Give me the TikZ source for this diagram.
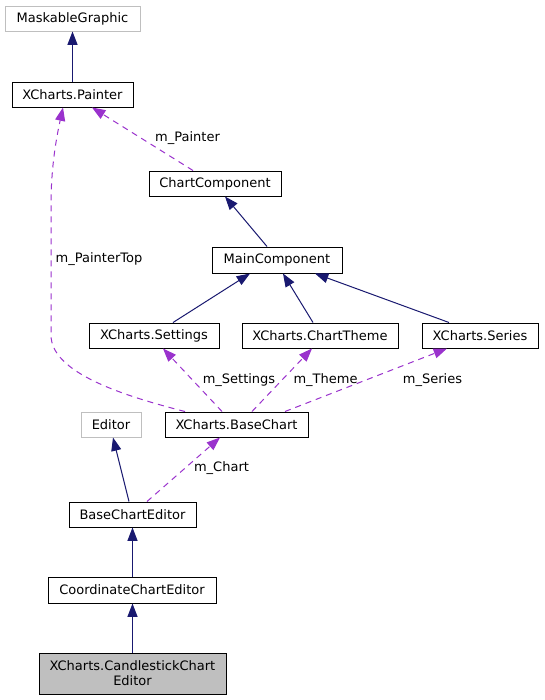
\documentclass[tikz,border=0pt]{standalone}
\usepackage{fontspec}
\setmainfont{DejaVu Sans}
\usetikzlibrary{arrows.meta,calc}
\definecolor{navy}{HTML}{191970}
\definecolor{orchid}{HTML}{9A32CD}
\definecolor{lgray}{HTML}{BFBFBF}
\begin{document}
\begin{tikzpicture}[x=0.75pt,y=-0.75pt,
 box/.style={draw=black, fill=white, line width=0.75pt, inner sep=0pt, minimum height=18.75pt, font=\fontsize{9.75pt}{11.25pt}\selectfont, align=center},
 ext/.style={box, draw=lgray},
 inh/.style={draw=navy, line width=0.75pt, -{Triangle[length=10pt,width=7.5pt]}},
 use/.style={draw=orchid, line width=0.75pt, dash pattern=on 4.5pt off 3.75pt, -{Triangle[length=10pt,width=7.5pt]}},
 lbl/.style={font=\fontsize{9.75pt}{11.25pt}\selectfont, inner sep=0pt}]
\fill[white] (0,0) rectangle (544,700);
\useasboundingbox (0,0) rectangle (544,700);
% nodes
\node[ext, minimum width=101.25pt] (mg) at (72.5,18.5) {MaskableGraphic};
\node[box, minimum width=90.75pt] (painter) at (72.5,94.5) {XCharts.Painter};
\node[box, minimum width=99pt] (cc) at (215,183.5) {ChartComponent};
\node[box, minimum width=97.5pt, minimum height=19.5pt] (mc) at (277,260) {MainComponent};
\node[box, minimum width=97.5pt] (set) at (154,335.5) {XCharts.Settings};
\node[box, minimum width=117pt] (theme) at (320,335.5) {XCharts.ChartTheme};
\node[box, minimum width=87pt] (series) at (480,335.5) {XCharts.Series};
\node[ext, minimum width=45pt] (editor) at (111,424.5) {Editor};
\node[box, minimum width=107.25pt] (bc) at (236.5,424.5) {XCharts.BaseChart};
\node[box, minimum width=95.25pt] (bce) at (132.5,514.5) {BaseChartEditor};
\node[box, minimum width=126pt, minimum height=19.5pt] (coord) at (132,590) {CoordinateChartEditor};
\node[box, fill=lgray, minimum width=140.25pt, minimum height=30.75pt] (candle) at (132.5,673.5) {XCharts.CandlestickChart\\Editor};
% inheritance edges
\draw[inh] (painter.north) -- (mg.south);
\draw[inh] ($(mc.north)+(-10,0)$) -- ($(cc.south)+(10,0)$);
\draw[inh] ($(set.north)+(19,0)$) -- ($(mc.south)+(-27,0)$);
\draw[inh] ($(theme.north)+(-7,0)$) -- ($(mc.south)+(6,0)$);
\draw[inh] ($(series.north)+(-31,0)$) -- ($(mc.south)+(38,0)$);
\draw[inh] ($(bce.north)+(-3.5,0)$) -- ($(editor.south)+(2,0)$);
\draw[inh] (coord.north -| bce.south) -- (bce.south);
\draw[inh] (candle.north) -- (candle.north |- coord.south);
% usage edges
\draw[use] ($(cc.north)+(-22,0)$) -- ($(painter.south)+(19.5,0)$);
\draw[use] ($(bc.north)+(-51.5,0)$) .. controls (120,395) and (51,372) .. (51,335) -- (51,205) .. controls (51,165) and (57,135) .. ($(painter.south)+(-9.5,0)$);
\draw[use] ($(bc.north)+(-14.5,0)$) -- ($(set.south)+(9,0)$);
\draw[use] ($(bc.north)+(15.5,0)$) -- ($(theme.south)+(-8,0)$);
\draw[use] ($(bc.north)+(48.5,0)$) -- ($(series.south)+(-33,0)$);
\draw[use] ($(bce.north)+(14.5,0)$) -- ($(bc.south)+(-16.5,0)$);
% labels
\node[lbl] (lpainter) at (187.5,138) {m\_Painter};
\node[lbl] (lptop) at (99,259) {m\_PainterTop};
\node[lbl] (lset) at (239,380) {m\_Settings};
\node[lbl] (ltheme) at (325.5,380) {m\_Theme};
\node[lbl] (lseries) at (432.5,380) {m\_Series};
\node[lbl] (lchart) at (221.5,468) {m\_Chart};
\end{tikzpicture}
\end{document}
